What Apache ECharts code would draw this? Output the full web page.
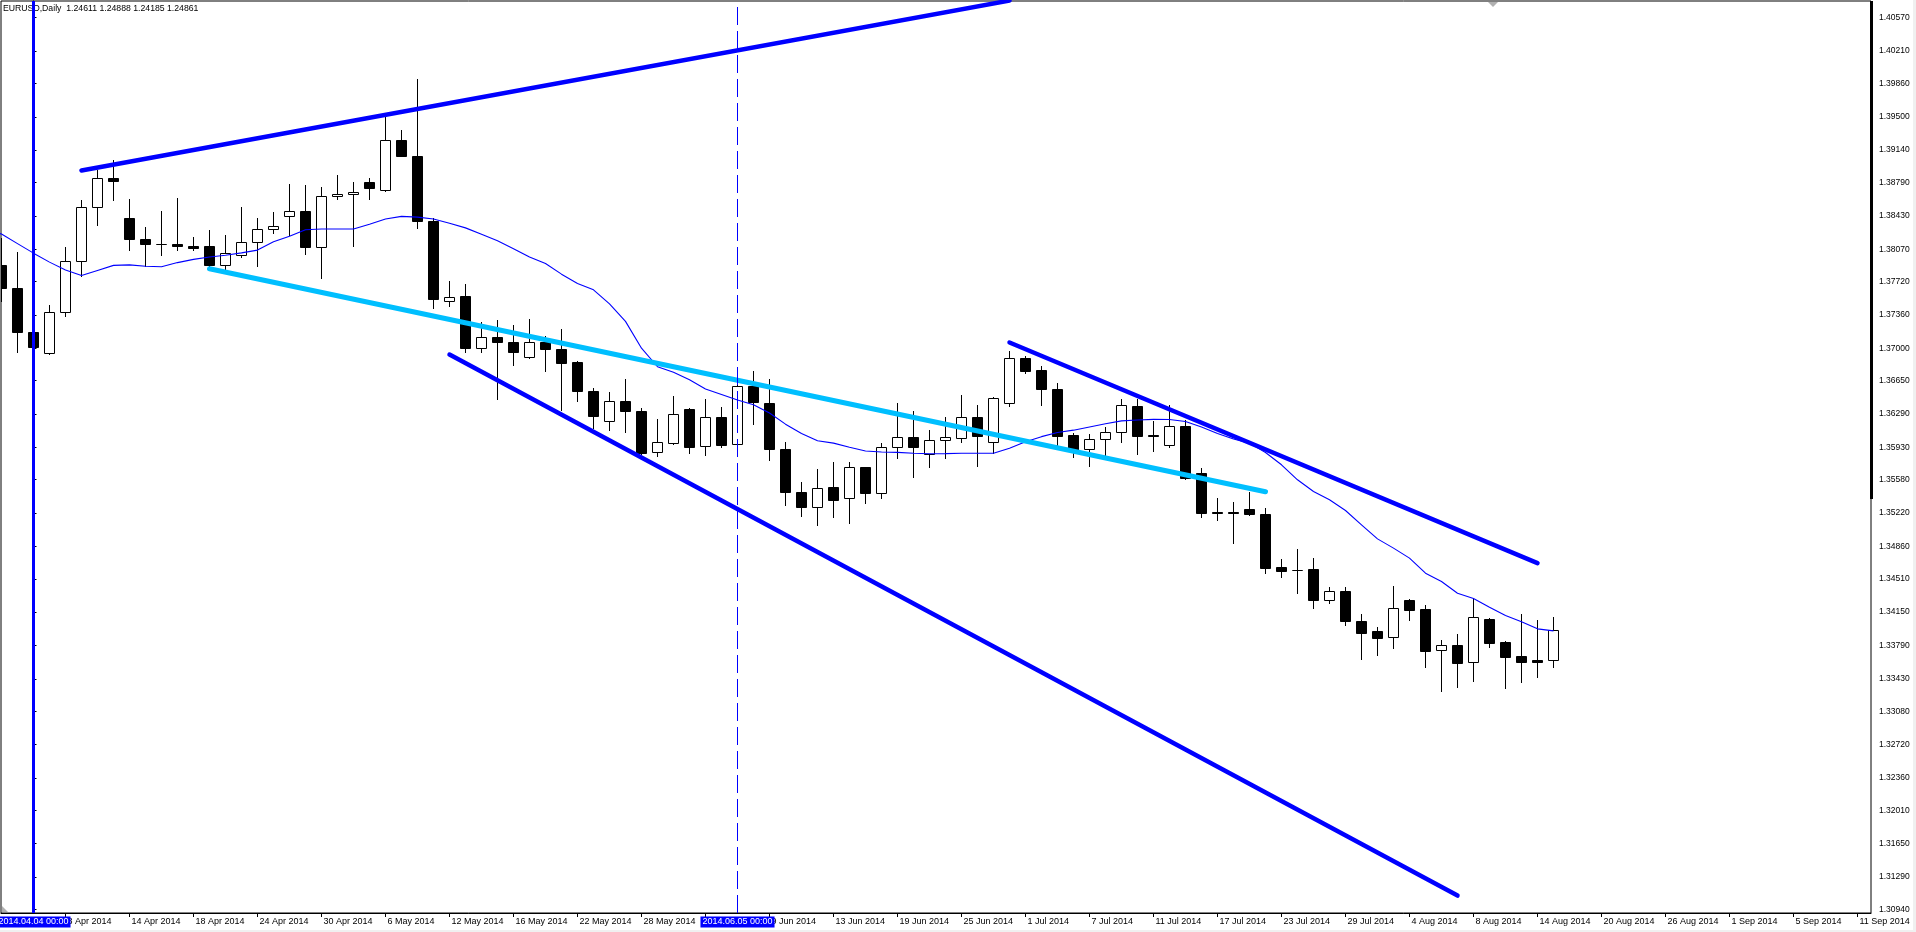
<!DOCTYPE html>
<html><head><meta charset="utf-8">
<script src="https://cdn.jsdelivr.net/npm/echarts@6/dist/echarts.min.js"></script>
<style>html,body{margin:0;padding:0;background:#fff;overflow:hidden}#c{width:1916px;height:932px}</style>
</head><body><div id="c"></div>
<script>
// ---------- DATA ----------
const headerText = 'EURUSD,Daily  1.24611 1.24888 1.24185 1.24861';
const firstBar = -2; // bar index of first candle (0 = 4 Apr 2014)
const barDates = ['2014-04-02','2014-04-03','2014-04-04','2014-04-07','2014-04-08','2014-04-09','2014-04-10','2014-04-11','2014-04-14','2014-04-15','2014-04-16','2014-04-17','2014-04-18','2014-04-21','2014-04-22','2014-04-23','2014-04-24','2014-04-25','2014-04-28','2014-04-29','2014-04-30','2014-05-01','2014-05-02','2014-05-05','2014-05-06','2014-05-07','2014-05-08','2014-05-09','2014-05-12','2014-05-13','2014-05-14','2014-05-15','2014-05-16','2014-05-19','2014-05-20','2014-05-21','2014-05-22','2014-05-23','2014-05-26','2014-05-27','2014-05-28','2014-05-29','2014-05-30','2014-06-02','2014-06-03','2014-06-04','2014-06-05','2014-06-06','2014-06-09','2014-06-10','2014-06-11','2014-06-12','2014-06-13','2014-06-16','2014-06-17','2014-06-18','2014-06-19','2014-06-20','2014-06-23','2014-06-24','2014-06-25','2014-06-26','2014-06-27','2014-06-30','2014-07-01','2014-07-02','2014-07-03','2014-07-04','2014-07-07','2014-07-08','2014-07-09','2014-07-10','2014-07-11','2014-07-14','2014-07-15','2014-07-16','2014-07-17','2014-07-18','2014-07-21','2014-07-22','2014-07-23','2014-07-24','2014-07-25','2014-07-28','2014-07-29','2014-07-30','2014-07-31','2014-08-01','2014-08-04','2014-08-05','2014-08-06','2014-08-07','2014-08-08','2014-08-11','2014-08-12','2014-08-13','2014-08-14','2014-08-15'];
const openP = [1.37901,1.37649,1.37174,1.36947,1.37389,1.37941,1.38524,1.38838,1.38406,1.38179,1.38125,1.38125,1.38103,1.38106,1.37894,1.38002,1.38146,1.38287,1.38431,1.38481,1.38092,1.38640,1.38665,1.38795,1.38712,1.39248,1.39079,1.38377,1.37512,1.37559,1.37001,1.37120,1.37069,1.36904,1.37069,1.36997,1.36853,1.36540,1.36212,1.36428,1.36324,1.35877,1.35981,1.36345,1.35946,1.36255,1.35964,1.36587,1.36407,1.35910,1.35445,1.35290,1.35499,1.35380,1.35715,1.35441,1.35931,1.36043,1.35859,1.36007,1.36028,1.36255,1.35985,1.36407,1.36893,1.36767,1.36561,1.36064,1.35910,1.36018,1.36090,1.36378,1.36064,1.35960,1.36162,1.35650,1.35236,1.35236,1.35265,1.35211,1.34639,1.34605,1.34617,1.34279,1.34379,1.34055,1.33947,1.33879,1.34279,1.34185,1.33739,1.33796,1.33609,1.34077,1.33829,1.33677,1.33634,1.33630];
const highP = [1.38189,1.38038,1.37199,1.37469,1.38092,1.38604,1.38928,1.39029,1.38611,1.38308,1.38485,1.38625,1.38200,1.38279,1.38222,1.38528,1.38406,1.38467,1.38777,1.38766,1.38741,1.38874,1.38795,1.38838,1.39497,1.39360,1.39911,1.38406,1.37728,1.37692,1.37278,1.37307,1.37253,1.37318,1.37127,1.37206,1.36864,1.36569,1.36525,1.36666,1.36352,1.36237,1.36479,1.36350,1.36450,1.36363,1.36605,1.36749,1.36666,1.35992,1.35553,1.35697,1.35769,1.35769,1.35722,1.35974,1.36407,1.36324,1.36118,1.36255,1.36497,1.36385,1.36475,1.36965,1.36918,1.36803,1.36623,1.36082,1.36075,1.36154,1.36453,1.36450,1.36219,1.36389,1.36226,1.35704,1.35380,1.35344,1.35452,1.35273,1.34725,1.34833,1.34736,1.34423,1.34423,1.34131,1.33990,1.34434,1.34293,1.34228,1.33850,1.33915,1.34300,1.34084,1.33839,1.34131,1.34066,1.34099];
const lowP = [1.37505,1.36954,1.37001,1.36940,1.37343,1.37782,1.38334,1.38604,1.38056,1.37883,1.38009,1.38063,1.38056,1.37883,1.37847,1.37980,1.37883,1.38243,1.38222,1.38020,1.37757,1.38614,1.38099,1.38614,1.38694,1.39072,1.38298,1.37433,1.37458,1.36954,1.36954,1.36457,1.36821,1.36893,1.36749,1.36335,1.36425,1.36136,1.36118,1.36100,1.35859,1.35841,1.35964,1.35866,1.35848,1.35938,1.35938,1.36183,1.35794,1.35308,1.35189,1.35092,1.35182,1.35110,1.35333,1.35387,1.35812,1.35614,1.35715,1.35812,1.35982,1.35733,1.35866,1.36378,1.36731,1.36389,1.35938,1.35830,1.35733,1.35848,1.35992,1.35859,1.35895,1.35938,1.35585,1.35182,1.35146,1.34894,1.35200,1.34570,1.34527,1.34351,1.34189,1.34243,1.34016,1.33648,1.33691,1.33767,1.34070,1.33562,1.33303,1.33346,1.33411,1.33778,1.33335,1.33400,1.33454,1.33562];
const closeP = [1.37649,1.37174,1.37012,1.37389,1.37945,1.38524,1.38838,1.38802,1.38179,1.38121,1.38121,1.38099,1.38078,1.37894,1.38027,1.38146,1.38287,1.38319,1.38481,1.38092,1.38640,1.38665,1.38687,1.38727,1.39248,1.39072,1.38370,1.37530,1.37548,1.37001,1.37120,1.37062,1.36954,1.37069,1.36990,1.36839,1.36533,1.36273,1.36428,1.36317,1.35873,1.35992,1.36288,1.35938,1.36255,1.35956,1.36587,1.36414,1.35917,1.35452,1.35290,1.35488,1.35362,1.35715,1.35441,1.35931,1.36043,1.35938,1.36010,1.36036,1.36255,1.36054,1.36460,1.36893,1.36759,1.36558,1.36054,1.35902,1.36018,1.36090,1.36385,1.36057,1.36057,1.36162,1.35596,1.35218,1.35218,1.35218,1.35207,1.34621,1.34599,1.34600,1.34286,1.34376,1.34059,1.33929,1.33875,1.34192,1.34178,1.33735,1.33793,1.33595,1.34099,1.33821,1.33670,1.33616,1.33616,1.33954];
// moving average, one value per bar starting at bar -3
const maFirstBar = -3;
const maValues = [1.38290,1.38233,1.38130,1.38027,1.37930,1.37845,1.37785,1.37840,1.37895,1.37900,1.37885,1.37880,1.37925,1.37960,1.37985,1.38005,1.38030,1.38060,1.38150,1.38210,1.38280,1.38287,1.38287,1.38287,1.38340,1.38395,1.38424,1.38416,1.38395,1.38350,1.38300,1.38230,1.38160,1.38075,1.37985,1.37915,1.37800,1.37700,1.37631,1.37480,1.37290,1.37000,1.36800,1.36740,1.36660,1.36560,1.36500,1.36440,1.36390,1.36300,1.36180,1.36080,1.36000,1.35975,1.35930,1.35890,1.35880,1.35875,1.35865,1.35860,1.35862,1.35866,1.35866,1.35866,1.35920,1.35990,1.36045,1.36090,1.36115,1.36150,1.36185,1.36215,1.36225,1.36232,1.36230,1.36208,1.36150,1.36080,1.36020,1.35975,1.35874,1.35741,1.35579,1.35453,1.35363,1.35247,1.35093,1.34941,1.34841,1.34733,1.34570,1.34480,1.34354,1.34297,1.34203,1.34113,1.34045,1.33969,1.33947];
// trend lines: [barIndex, price] anchor pairs
const trendUpper = [[3, 1.38920], [61, 1.40755]];
const trendCyan = [[11, 1.37858], [77, 1.35450]];
const trendLower = [[26, 1.36932], [89, 1.31088]];
const trendRight = [[61, 1.37062], [94, 1.34679]];
// vertical lines
const vLineIndex = [0, 44];
const vLineLabels = ['2014.04.04 00:00', '2014.06.05 00:00'];
// axis ticks
const xTickIndex = [2,6,10,14,18,22,26,30,34,38,42,46,50,54,58,62,66,70,74,78,82,86,90,94,98,102,106,110,114];
const xTickLabels = ['8 Apr 2014','14 Apr 2014','18 Apr 2014','24 Apr 2014','30 Apr 2014','6 May 2014','12 May 2014','16 May 2014','22 May 2014','28 May 2014','3 Jun 2014','9 Jun 2014','13 Jun 2014','19 Jun 2014','25 Jun 2014','1 Jul 2014','7 Jul 2014','11 Jul 2014','17 Jul 2014','23 Jul 2014','29 Jul 2014','4 Aug 2014','8 Aug 2014','14 Aug 2014','20 Aug 2014','26 Aug 2014','1 Sep 2014','5 Sep 2014','11 Sep 2014'];
const yTickLabels = ['1.40570','1.40210','1.39860','1.39500','1.39140','1.38790','1.38430','1.38070','1.37720','1.37360','1.37000','1.36650','1.36290','1.35930','1.35580','1.35220','1.34860','1.34510','1.34150','1.33790','1.33430','1.33080','1.32720','1.32360','1.32010','1.31650','1.31290','1.30940'];
const yMin = 1.30900, yMax = 1.407504;
const xMin = -2.03125, xMax = 114.84375;

// ---------- BUILD ----------
const FONT = 'Liberation Sans';
const candleData = barDates.map((d, k) => [k + firstBar, openP[k], closeP[k], lowP[k], highP[k]]);
const maData = maValues.map((v, k) => [k + maFirstBar, v]);
const yTickValues = yTickLabels.map(Number);

function renderCandle(params, api) {
  const i = api.value(0), o = api.value(1), c = api.value(2), l = api.value(3), h = api.value(4);
  const pO = api.coord([i, o]), pC = api.coord([i, c]);
  const yL = api.coord([i, l])[1], yH = api.coord([i, h])[1];
  const wx = Math.floor(pO[0]) + 0.5;
  const top = Math.round(Math.min(pO[1], pC[1])) + 0.5;
  const bot = Math.round(Math.max(pO[1], pC[1])) + 0.5;
  const bull = c >= o;
  return {
    type: 'group',
    children: [
      { type: 'line', shape: { x1: wx, y1: Math.round(yH), x2: wx, y2: Math.round(yL) + 1 }, style: { stroke: '#000', lineWidth: 1 } },
      { type: 'rect', shape: { x: wx - 5, y: top, width: 10, height: bot - top }, style: { fill: bull ? '#fff' : '#000', stroke: '#000', lineWidth: 1 } }
    ]
  };
}

function trendSeries(pts, color, width) {
  return { type: 'line', data: pts, symbol: 'none', silent: true, z: 8, animation: false,
    lineStyle: { color: color, width: width, cap: 'round' } };
}

const chart = echarts.init(document.getElementById('c'), null, { renderer: 'canvas' });
chart.setOption({
  animation: false,
  backgroundColor: '#fff',
  title: { text: headerText, left: 3, top: 4, padding: 0, z: 1,
    textStyle: { fontSize: 8.7, fontWeight: 'normal', color: '#000', fontFamily: FONT } },
  grid: { left: 1, top: 1, right: 45, bottom: 19, containLabel: false, outerBoundsMode: 'none',
    show: true, borderColor: '#000', borderWidth: 1, backgroundColor: '#fff' },
  xAxis: [{
    type: 'value', min: xMin, max: xMax, position: 'bottom',
    axisLine: { show: true, lineStyle: { color: '#000', width: 1 } },
    axisTick: { show: true, length: 4, inside: false, customValues: xTickIndex, lineStyle: { color: '#000' } },
    axisLabel: { show: true, customValues: xTickIndex, align: 'left', verticalAlign: 'middle', margin: 9,
      color: '#000', fontSize: 9, fontFamily: FONT, padding: [0, 0, 0, 2],
      formatter: v => xTickLabels[xTickIndex.indexOf(Math.round(v))] || '' },
    splitLine: { show: false }
  }, {
    type: 'value', min: xMin, max: xMax, position: 'bottom', offset: 0, z: 20,
    axisLine: { show: false }, axisTick: { show: false }, splitLine: { show: false },
    axisLabel: { show: true, customValues: vLineIndex, align: 'center', verticalAlign: 'middle', margin: 9,
      color: '#fff', fontSize: 9, fontFamily: FONT, backgroundColor: '#0000ff', padding: [1, 2, 1, 2],
      formatter: v => vLineLabels[vLineIndex.indexOf(Math.round(v))] || '' }
  }],
  yAxis: {
    type: 'value', min: yMin, max: yMax, position: 'right',
    axisLine: { show: true, lineStyle: { color: '#000', width: 1 } },
    axisTick: { show: true, length: 3, inside: false, customValues: yTickValues, lineStyle: { color: '#000' } },
    axisLabel: { show: true, customValues: yTickValues, align: 'left', margin: 8, color: '#000', fontSize: 8.5, fontFamily: FONT,
      formatter: v => yTickLabels[yTickValues.indexOf(v)] || v.toFixed(5) },
    splitLine: { show: false }
  },
  graphic: [
    { type: 'rect', shape: { x: 1913, y: 0, width: 3, height: 932 }, style: { fill: '#f0f0f0' }, silent: true },
    { type: 'rect', shape: { x: 0, y: 930, width: 1916, height: 2 }, style: { fill: '#f0f0f0' }, silent: true },
    { type: 'rect', shape: { x: 1870, y: 1, width: 3, height: 498 }, style: { fill: '#000' }, silent: true, z: 50 },
    { type: 'polygon', shape: { points: [[1488, 2], [1498, 2], [1493, 7]] }, style: { fill: '#b0b0b0' }, silent: true, z: 50 },
    { type: 'polygon', shape: { points: [[2, 906], [2, 912], [8, 912]] }, style: { fill: '#b0b0b0' }, silent: true, z: 50 }
  ],
  series: [
    { type: 'custom', name: 'EURUSD', data: candleData, renderItem: renderCandle, encode: { x: 0, y: [1, 2, 3, 4] }, clip: true, z: 3, silent: true },
    { type: 'line', name: 'MA', data: maData, symbol: 'none', silent: true, z: 5, lineStyle: { color: '#0000ff', width: 1.1 } },
    trendSeries(trendUpper, '#0000ff', 4.5),
    trendSeries(trendLower, '#0000ff', 4.5),
    trendSeries(trendRight, '#0000ff', 4.5),
    trendSeries(trendCyan, '#00bfff', 5),
    { type: 'line', data: [[vLineIndex[0], yMin], [vLineIndex[0], yMax]], symbol: 'none', silent: true, z: 10,
      lineStyle: { color: '#0000ff', width: 3 } },
    { type: 'line', data: [[vLineIndex[1], yMin], [vLineIndex[1], yMax]], symbol: 'none', silent: true, z: 10,
      lineStyle: { color: '#0000ff', width: 1, type: [18, 6] } }
  ]
});
</script>
</body></html>
